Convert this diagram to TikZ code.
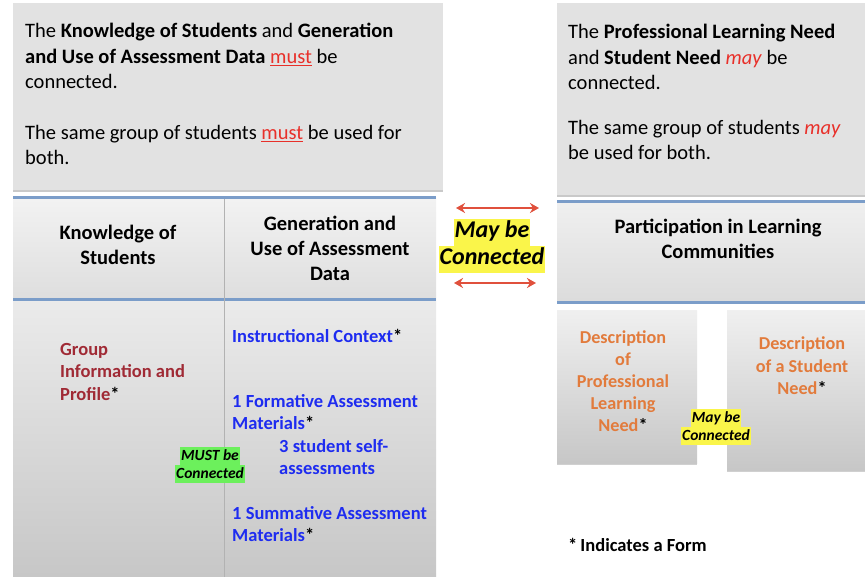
\documentclass[tikz,border=0pt]{standalone}
\usepackage{fontspec}
\setmainfont{Carlito}
\usetikzlibrary{shadows,arrows.meta}
\definecolor{boxgray}{HTML}{E2E2E2}
\definecolor{tblue}{HTML}{7B9DC9}
\definecolor{dred}{HTML}{A02A35}
\definecolor{iblue}{HTML}{1E2CF0}
\definecolor{orng}{HTML}{E27B3C}
\definecolor{arred}{HTML}{E0503C}
\definecolor{hlyel}{HTML}{FAF54A}
\definecolor{hlgrn}{HTML}{6CF05C}
\definecolor{mred}{HTML}{E8302A}
\tikzset{
  panel/.style={fill=boxgray, draw=none, anchor=north west, inner sep=0pt,
    drop shadow={shadow xshift=0pt, shadow yshift=-2pt, opacity=0.35, fill=black!60}},
  descbox/.style={top color=black!6, bottom color=black!22, draw=none, anchor=north west, inner sep=0pt,
    drop shadow={shadow xshift=0pt, shadow yshift=-2pt, opacity=0.3, fill=black!60}},
  blueline/.style={draw=tblue, line width=3pt},
  txt/.style={inner sep=0pt, font=\fontsize{20.5}{25.5}\selectfont, align=left, anchor=base west},
  head/.style={inner sep=0pt, font=\bfseries\fontsize{20.5}{25}\selectfont, align=center, anchor=base},
  body/.style={inner sep=0pt, font=\bfseries\fontsize{18.5}{22.5}\selectfont, anchor=base west, align=left},
  dbody/.style={inner sep=0pt, font=\bfseries\fontsize{18.2}{22}\selectfont, anchor=base, align=center, text=orng},
  arr/.style={draw=arred, line width=2.4pt, {Stealth[length=9pt,width=10pt]}-{Stealth[length=9pt,width=10pt]}},
  hlbig/.style={inner xsep=1pt, inner ysep=0pt, anchor=base, text height=19pt, text depth=8pt,
    font=\bfseries\itshape\fontsize{24}{28}\selectfont},
  hlsmall/.style={inner xsep=1pt, inner ysep=0pt, anchor=base, text height=13pt, text depth=5.2pt,
    font=\bfseries\itshape\fontsize{15.5}{18}\selectfont},
}
\begin{document}
\begin{tikzpicture}[x=1pt,y=-1pt]
\useasboundingbox (0,0) rectangle (865,577);
\fill[white] (0,0) rectangle (865,577);

% top boxes
\node[panel, minimum width=430pt, minimum height=187pt] (tl) at (13,3) {};
\node[panel, minimum width=310pt, minimum height=192pt] (tr) at (557,3) {};

% left table
\path[top color=black!8, bottom color=black!22] (13,301) rectangle (436,577);
\path[top color=black!5, bottom color=black!13] (13,198) rectangle (436,300);
\coordinate (hlA) at (13,198); \coordinate (hlB) at (436,198);
\coordinate (hlC) at (13,300); \coordinate (hlD) at (436,300);
\draw[blueline] (hlA) -- (hlB);
\draw[blueline] (hlC) -- (hlD);
\coordinate (dvA) at (224,199); \coordinate (dvB) at (224,577);
\draw[black!30, line width=0.8pt] (dvA) -- (dvB);

% right header
\path[top color=black!6, bottom color=black!14] (557,202) rectangle (865,303);
\coordinate (rhA) at (557,202); \coordinate (rhB) at (865,202);
\coordinate (rhC) at (557,303); \coordinate (rhD) at (865,303);
\draw[blueline] (rhA) -- (rhB);
\draw[blueline] (rhC) -- (rhD);

% description boxes
\node[descbox, minimum width=140pt, minimum height=153pt] (d1) at (557,310) {};
\node[descbox, minimum width=140pt, minimum height=160pt] (d2) at (727,310) {};

% top texts (anchored at the baseline of their last line)
\node[txt] (tltext) at (25,165) {The \textbf{Knowledge of Students} and \textbf{Generation}\\
\textbf{and Use of Assessment Data} \textcolor{mred}{\underline{must}} be\\
connected.\\[25pt]
The same group of students \textcolor{mred}{\underline{must}} be used for\\
both.};
\node[txt] (trtext) at (568,160) {The \textbf{Professional Learning Need}\\
and \textbf{Student Need} \textcolor{mred}{\textit{may}} be\\
connected.\\[19pt]
The same group of students \textcolor{mred}{\textit{may}}\\
be used for both.};

% headers
\node[head] (h1) at (118,265) {Knowledge of\\Students};
\node[head] (h2) at (330,281) {Generation and\\Use of Assessment\\Data};
\node[head] (h3) at (718,259) {Participation in Learning\\Communities};

% body texts
\node[body, text=dred] (grp) at (60,400) {Group\\Information and\\Profile\textcolor{black}{*}};
\node[body, text=iblue] (ic) at (232,343) {Instructional Context\textcolor{black}{*}};
\node[body, text=iblue] (fa) at (232,429.5) {1 Formative Assessment\\Materials\textcolor{black}{*}};
\node[body, text=iblue] (ss) at (279,474.5) {3 student self-\\assessments};
\node[body, text=iblue] (sa) at (232,541.5) {1 Summative Assessment\\Materials\textcolor{black}{*}};

\node[dbody] (dt1) at (623,431) {Description\\of\\Professional\\Learning\\Need\textcolor{black}{*}};
\node[dbody] (dt2) at (802,394) {Description\\of a Student\\Need\textcolor{black}{*}};

\node[body, text=black] (note) at (568,551) {*\,Indicates a Form};

% arrows and connection labels
\coordinate (a1s) at (456,208); \coordinate (a1e) at (539,208);
\coordinate (a2s) at (454,283); \coordinate (a2e) at (536,283);
\draw[arr] (a1s) -- (a1e);
\draw[arr] (a2s) -- (a2e);
\node[hlbig, fill=hlyel] (mb1) at (492,238) {May be};
\node[hlbig, fill=hlyel] (mb2) at (492,265) {Connected};

\node[hlsmall, fill=hlgrn] (mu1) at (210,460) {MUST be};
\node[hlsmall, fill=hlgrn] (mu2) at (210,478) {Connected};

\node[hlsmall, fill=hlyel] (sm1) at (716,422) {May be};
\node[hlsmall, fill=hlyel] (sm2) at (716,440) {Connected};
\end{tikzpicture}
\end{document}
